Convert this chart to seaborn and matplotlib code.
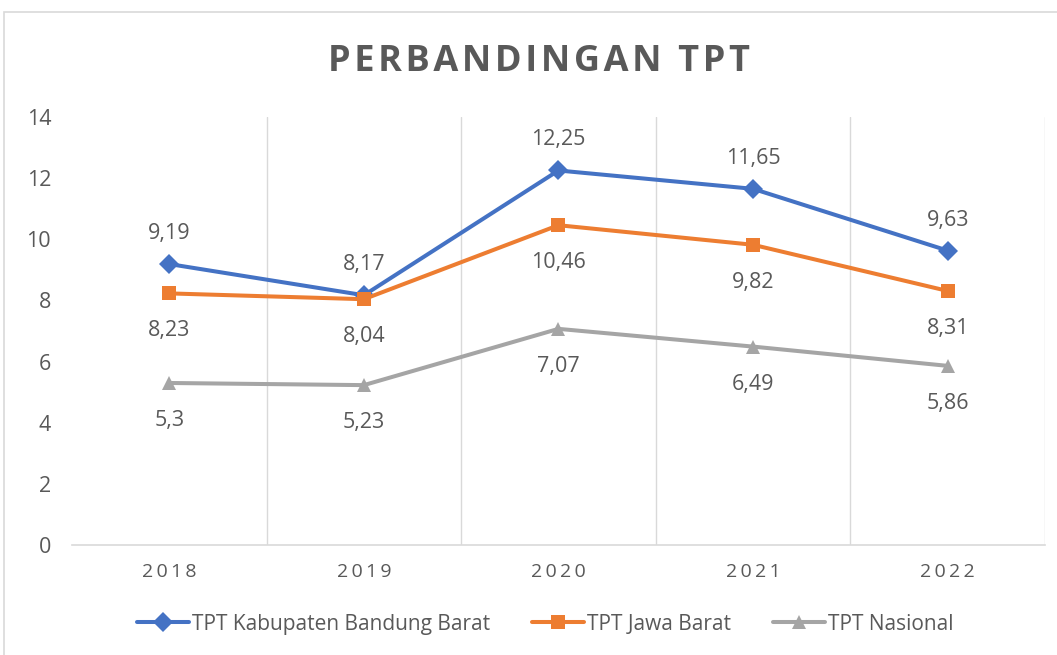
import pandas as pd
import matplotlib
matplotlib.use("Agg")
import matplotlib.pyplot as plt
import seaborn as sns
from matplotlib.patches import Rectangle

years = ["2018", "2019", "2020", "2021", "2022"]
tpt_kbb = [9.19, 8.17, 12.25, 11.65, 9.63]
tpt_jabar = [8.23, 8.04, 10.46, 9.82, 8.31]
tpt_nasional = [5.3, 5.23, 7.07, 6.49, 5.86]
series_names = ["TPT Kabupaten Bandung Barat", "TPT Jawa Barat", "TPT Nasional"]

colors = ["#4472C4", "#ED7D31", "#A5A5A5"]
markers = ["D", "s", "^"]
label_offsets = [22, -27, -27]
text_color = "#595959"

df = pd.DataFrame({
    "tahun": years * 3,
    "nilai": tpt_kbb + tpt_jabar + tpt_nasional,
    "seri": [s for s in series_names for _ in years],
})

sns.set_theme(style="white")
plt.rcParams["font.family"] = ["Open Sans", "DejaVu Sans"]

fig = plt.figure(figsize=(10.57, 6.55), dpi=100)
ax = fig.add_axes([0.0681, 0.1679, 0.9205, 0.6535])

sns.lineplot(data=df, x="tahun", y="nilai", hue="seri", style="seri",
             palette=dict(zip(series_names, colors)),
             markers=dict(zip(series_names, markers)),
             dashes=False, linewidth=2.9, markersize=10.5, markeredgewidth=0,
             legend=False, ax=ax)

# label data (koma sebagai desimal)
for name, vals, off in zip(series_names, [tpt_kbb, tpt_jabar, tpt_nasional], label_offsets):
    for i, v in enumerate(vals):
        ax.annotate(str(v).replace(".", ","), (i, v), xytext=(0, off),
                    textcoords="offset points", ha="center", va="center",
                    fontsize=15.5, color=text_color)

ax.set_xlim(-0.5, 4.5)
ax.set_ylim(0, 14)
ax.set_yticks(range(0, 15, 2))
ax.set_xticks(range(len(years)))
ax.set_xticklabels(["\u2009".join(y) for y in years])
for b in [0.5, 1.5, 2.5, 3.5, 4.5]:
    ax.axvline(b, color="#D9D9D9", lw=1, zorder=0)
ax.tick_params(axis="both", length=0, colors=text_color)
ax.tick_params(axis="x", pad=13, labelsize=14)
ax.tick_params(axis="y", pad=15, labelsize=15.5)
ax.set_xlabel("")
ax.set_ylabel("")
for side in ["top", "right", "left"]:
    ax.spines[side].set_visible(False)
ax.spines["bottom"].set_color("#D9D9D9")
ax.spines["bottom"].set_linewidth(1.2)

fig.text(0.51, 0.906, "\u200a".join("PERBANDINGAN TPT"), ha="center", va="center",
         fontsize=26, fontweight="bold", color=text_color)

handles = ax.lines[:3]
leg = fig.legend(handles, series_names, loc="center", bbox_to_anchor=(0.516, 0.047),
                 ncol=3, frameon=False, fontsize=15, handlelength=2.5,
                 columnspacing=2.0, handletextpad=0.15)
for t in leg.get_texts():
    t.set_color(text_color)

fig.patches.append(Rectangle((4 / 1057, -0.01), 1.1, 1 - 12 / 655 + 0.01,
                             transform=fig.transFigure, fill=False,
                             edgecolor="#D9D9D9", lw=1.2))

fig.savefig("out.png", dpi=100, facecolor="white")
